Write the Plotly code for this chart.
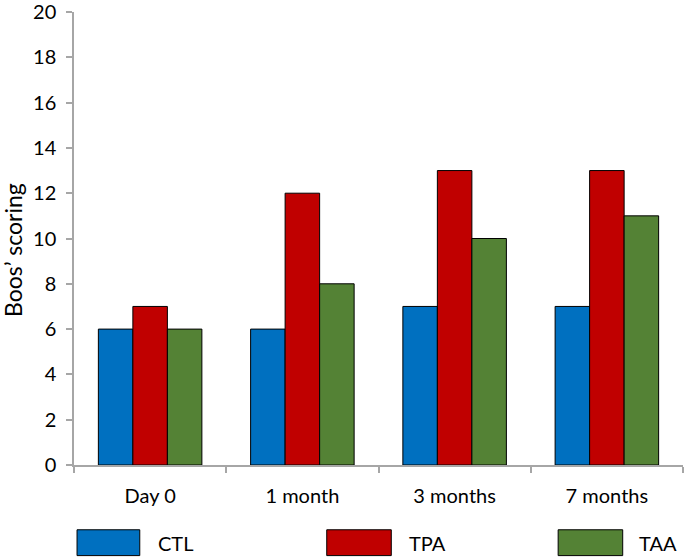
import plotly.graph_objects as go

categories = ["Day 0", "1 month", "3 months", "7 months"]
series_names = ["CTL", "TPA", "TAA"]
ctl = [6, 6, 7, 7]
tpa = [7, 12, 13, 13]
taa = [6, 8, 10, 11]
colors = ["#0070C0", "#C00000", "#548235"]
y_ticks = list(range(0, 21, 2))
y_title = "Boos’ scoring"

FONT = "Lato, Carlito, 'Open Sans', sans-serif"

fig = go.Figure()
for name, vals, col in zip(series_names, [ctl, tpa, taa], colors):
    fig.add_trace(go.Bar(x=categories, y=vals, name=name,
                         marker=dict(color=col, line=dict(color="black", width=1)),
                         showlegend=False))

# Custom legend (wide swatches) below the plot
legend_pos = [(0.005, 0.108, 0.134), (0.415, 0.521, 0.546), (0.795, 0.901, 0.924)]
for (x0, x1, xt), name, col in zip(legend_pos, series_names, colors):
    fig.add_shape(type="rect", xref="paper", yref="paper", x0=x0, x1=x1, y0=-0.2, y1=-0.143,
                  fillcolor=col, line=dict(color="black", width=1))
    fig.add_annotation(xref="paper", yref="paper", x=xt, y=-0.1715, text=name, showarrow=False,
                       xanchor="left", yanchor="middle", font=dict(size=20, color="black", family=FONT))

# Y-axis title
fig.add_annotation(xref="paper", yref="paper", x=-0.1, y=0.475, text=y_title, showarrow=False,
                   textangle=-90, xanchor="center", yanchor="middle",
                   font=dict(size=23, color="black", family=FONT))

fig.update_layout(
    width=685, height=559,
    margin=dict(l=74, r=2, t=12, b=94),
    paper_bgcolor="white", plot_bgcolor="white",
    barmode="group", bargap=0.32, bargroupgap=0,
    font=dict(family=FONT, size=20, color="black"),
)
fig.update_yaxes(range=[0, 20], tickvals=y_ticks, showgrid=False, zeroline=False,
                 showline=True, linecolor="#A6A6A6", linewidth=1.5,
                 ticks="outside", ticklen=6, tickcolor="#A6A6A6", tickwidth=1.5,
                 ticklabelstandoff=6, ticklabeloverflow="allow", automargin=False)
fig.update_xaxes(showgrid=False, showline=True, linecolor="#A6A6A6", linewidth=1.5,
                 ticks="outside", ticklen=6, tickcolor="#A6A6A6", tickwidth=1.5,
                 tickson="boundaries", ticklabelstandoff=12, automargin=False)

fig.write_html("out.html", config={"displayModeBar": False},
               post_script="document.body.style.margin='0';document.body.style.padding='0';")
